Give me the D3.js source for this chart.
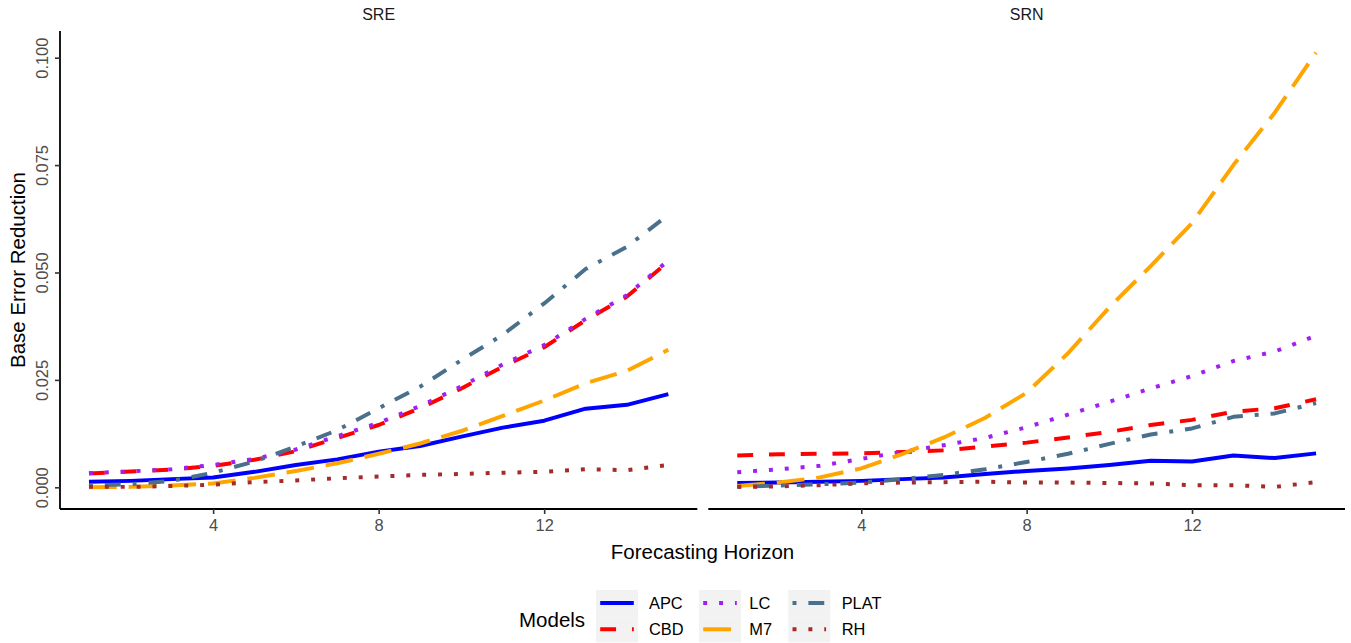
<!DOCTYPE html>
<html>
<head>
<meta charset="utf-8">
<script src="https://cdn.jsdelivr.net/npm/d3@7"></script>
<style>
  html, body { margin: 0; padding: 0; background: #fff; }
  svg { display: block; font-family: "Liberation Sans", Arial, Helvetica, sans-serif; }
</style>
</head>
<body>
<svg id="chart" width="1351" height="643"></svg>
<script>
// ---------------- data ----------------
const horizons = [1, 2, 3, 4, 5, 6, 7, 8, 9, 10, 11, 12, 13, 14, 15];
const models = ["APC", "CBD", "LC", "M7", "PLAT", "RH"];
const panels = ["SRE", "SRN"];
const xTicks = [4, 8, 12];
const yTicks = [0, 0.025, 0.05, 0.075, 0.1];
const yTickLabels = ["0.000", "0.025", "0.050", "0.075", "0.100"];

const sreAPC  = [0.0013, 0.0015, 0.0019, 0.0023, 0.0036, 0.0052, 0.0065, 0.0083, 0.0096, 0.0118, 0.0139, 0.0155, 0.0183, 0.0192, 0.0217];
const sreCBD  = [0.0032, 0.0037, 0.0041, 0.0050, 0.0064, 0.0084, 0.0115, 0.0145, 0.0184, 0.0230, 0.0281, 0.0326, 0.0389, 0.0444, 0.0525];
const sreLC   = [0.0033, 0.0037, 0.0042, 0.0052, 0.0066, 0.0088, 0.0119, 0.0150, 0.0189, 0.0235, 0.0286, 0.0331, 0.0392, 0.0447, 0.0528];
const sreM7   = [0.0000, 0.0001, 0.0004, 0.0009, 0.0022, 0.0038, 0.0056, 0.0078, 0.0102, 0.0131, 0.0166, 0.0202, 0.0242, 0.0271, 0.0320];
const srePLAT = [0.0004, 0.0007, 0.0015, 0.0034, 0.0060, 0.0095, 0.0133, 0.0184, 0.0234, 0.0296, 0.0355, 0.0428, 0.0508, 0.0560, 0.0634];
const sreRH   = [0.0001, 0.0001, 0.0003, 0.0006, 0.0012, 0.0016, 0.0021, 0.0025, 0.0029, 0.0031, 0.0034, 0.0036, 0.0042, 0.0040, 0.0052];

const srnAPC  = [0.0010, 0.0011, 0.0013, 0.0015, 0.0019, 0.0023, 0.0031, 0.0038, 0.0044, 0.0052, 0.0062, 0.0060, 0.0074, 0.0068, 0.0079];
const srnCBD  = [0.0074, 0.0077, 0.0078, 0.0079, 0.0082, 0.0086, 0.0095, 0.0104, 0.0116, 0.0129, 0.0145, 0.0157, 0.0176, 0.0184, 0.0205];
const srnLC   = [0.0035, 0.0042, 0.0050, 0.0066, 0.0083, 0.0098, 0.0115, 0.0140, 0.0169, 0.0199, 0.0230, 0.0259, 0.0294, 0.0316, 0.0353];
const srnM7   = [0.0003, 0.0011, 0.0023, 0.0044, 0.0078, 0.0116, 0.0162, 0.0220, 0.0312, 0.0419, 0.0515, 0.0615, 0.0750, 0.0872, 0.1012];
const srnPLAT = [0.0001, 0.0004, 0.0007, 0.0011, 0.0019, 0.0029, 0.0042, 0.0059, 0.0078, 0.0101, 0.0123, 0.0137, 0.0164, 0.0172, 0.0196];
const srnRH   = [0.0001, 0.0002, 0.0005, 0.0009, 0.0011, 0.0012, 0.0013, 0.0011, 0.0011, 0.0010, 0.0009, 0.0005, 0.0005, 0.0001, 0.0012];

const seriesByPanel = {
  SRE: { APC: sreAPC, CBD: sreCBD, LC: sreLC, M7: sreM7, PLAT: srePLAT, RH: sreRH },
  SRN: { APC: srnAPC, CBD: srnCBD, LC: srnLC, M7: srnM7, PLAT: srnPLAT, RH: srnRH }
};

// ---------------- styles ----------------
const LW = 3.97;                 // line width (px)
const colors = { APC: "#0000FF", CBD: "#FF0000", LC: "#A020F0", M7: "#FFA500", PLAT: "#4A708B", RH: "#A52A2A" };
const dashUnits = { APC: null, CBD: [4, 4], LC: [1, 3], M7: [7, 3], PLAT: [1, 3, 4, 3], RH: [1, 3] };
const dashArray = m => dashUnits[m] ? dashUnits[m].map(d => d * LW).join(",") : null;

const svg = d3.select("#chart");

const panelTop = 31, panelBottom = 509;
const panelX = { SRE: [60, 697.3], SRN: [708.3, 1345] };

const y = d3.scaleLinear().domain([-0.00505, 0.10621]).range([panelBottom, panelTop]);

const tickColor = "#4D4D4D";
const fsTick = 16.4, fsTitle = 20.5;
const FONT = '"Liberation Sans", Arial, Helvetica, sans-serif';

panels.forEach((p, pi) => {
  const x = d3.scaleLinear().domain([0.3, 15.7]).range(panelX[p]);
  const g = svg.append("g");

  // strip label
  g.append("text")
    .attr("x", (panelX[p][0] + panelX[p][1]) / 2)
    .attr("y", 20)
    .attr("text-anchor", "middle")
    .attr("font-size", 16)
    .attr("font-family", FONT)
    .attr("fill", "#1A1A1A")
    .text(p);

  // lines
  const line = d3.line()
    .x((d, i) => x(horizons[i]))
    .y(d => y(d));
  models.forEach(m => {
    g.append("path")
      .datum(seriesByPanel[p][m])
      .attr("d", line)
      .attr("fill", "none")
      .attr("stroke", colors[m])
      .attr("stroke-width", LW)
      .attr("stroke-linejoin", "round")
      .attr("stroke-linecap", "butt")
      .attr("stroke-dasharray", dashArray(m));
  });

  // x axis
  const xAxis = d3.axisBottom(x).tickValues(xTicks).tickSize(5).tickPadding(5).tickFormat(d3.format("d"));
  const gx = g.append("g").attr("transform", `translate(0,${panelBottom})`).call(xAxis);
  gx.select(".domain").attr("d", `M${panelX[p][0]},0H${panelX[p][1]}`).attr("stroke", "#000").attr("stroke-width", 1.8);
  gx.selectAll(".tick line").attr("stroke", "#333333").attr("stroke-width", 1.6);
  gx.selectAll(".tick text").attr("fill", tickColor).attr("font-size", fsTick)
    .attr("font-family", FONT).attr("dy", "0.72em");

  // y axis only on first panel
  if (pi === 0) {
    const yAxis = d3.axisLeft(y).tickValues(yTicks).tickSize(5).tickFormat((d, i) => yTickLabels[i]);
    const gy = g.append("g").attr("transform", `translate(${panelX[p][0]},0)`).call(yAxis);
    gy.select(".domain").attr("d", `M0,${panelTop}V${panelBottom}`).attr("stroke", "#000").attr("stroke-width", 1.8);
    gy.selectAll(".tick line").attr("stroke", "#333333").attr("stroke-width", 1.6);
    gy.selectAll(".tick text")
      .attr("fill", tickColor).attr("font-size", fsTick)
      .attr("font-family", FONT)
      .attr("x", null).attr("dy", null)
      .attr("text-anchor", "middle")
      .attr("transform", "translate(-12,0) rotate(-90)");
  }
});

// axis titles
svg.append("text")
  .attr("x", (60 + 1345) / 2).attr("y", 559)
  .attr("text-anchor", "middle").attr("font-size", fsTitle).attr("fill", "#000")
  .text("Forecasting Horizon");

svg.append("text")
  .attr("transform", `translate(25,${(panelTop + panelBottom) / 2}) rotate(-90)`)
  .attr("text-anchor", "middle").attr("font-size", fsTitle).attr("fill", "#000")
  .text("Base Error Reduction");

// legend
const legend = svg.append("g");
legend.append("text").attr("x", 519).attr("y", 626.5).attr("font-size", fsTitle).attr("fill", "#000").text("Models");
const colX = [596, 699, 788.3];
const labX = [649, 749.3, 841.7];
const rowTop = 590, keyW = 42, keyH = 26.2;
models.forEach((m, i) => {
  const c = Math.floor(i / 2), r = i % 2;
  const kx = colX[c], ky = rowTop + r * keyH;
  legend.append("rect").attr("x", kx).attr("y", ky).attr("width", keyW).attr("height", keyH).attr("fill", "#F2F2F2");
  legend.append("line")
    .attr("x1", kx + keyW * 0.1).attr("x2", kx + keyW * 0.9)
    .attr("y1", ky + keyH / 2).attr("y2", ky + keyH / 2)
    .attr("stroke", colors[m]).attr("stroke-width", LW)
    .attr("stroke-linecap", "butt")
    .attr("stroke-dasharray", dashArray(m));
  legend.append("text").attr("x", labX[c]).attr("y", ky + keyH / 2 + 6)
    .attr("font-size", fsTick).attr("fill", "#000").text(m);
});
</script>
</body>
</html>
